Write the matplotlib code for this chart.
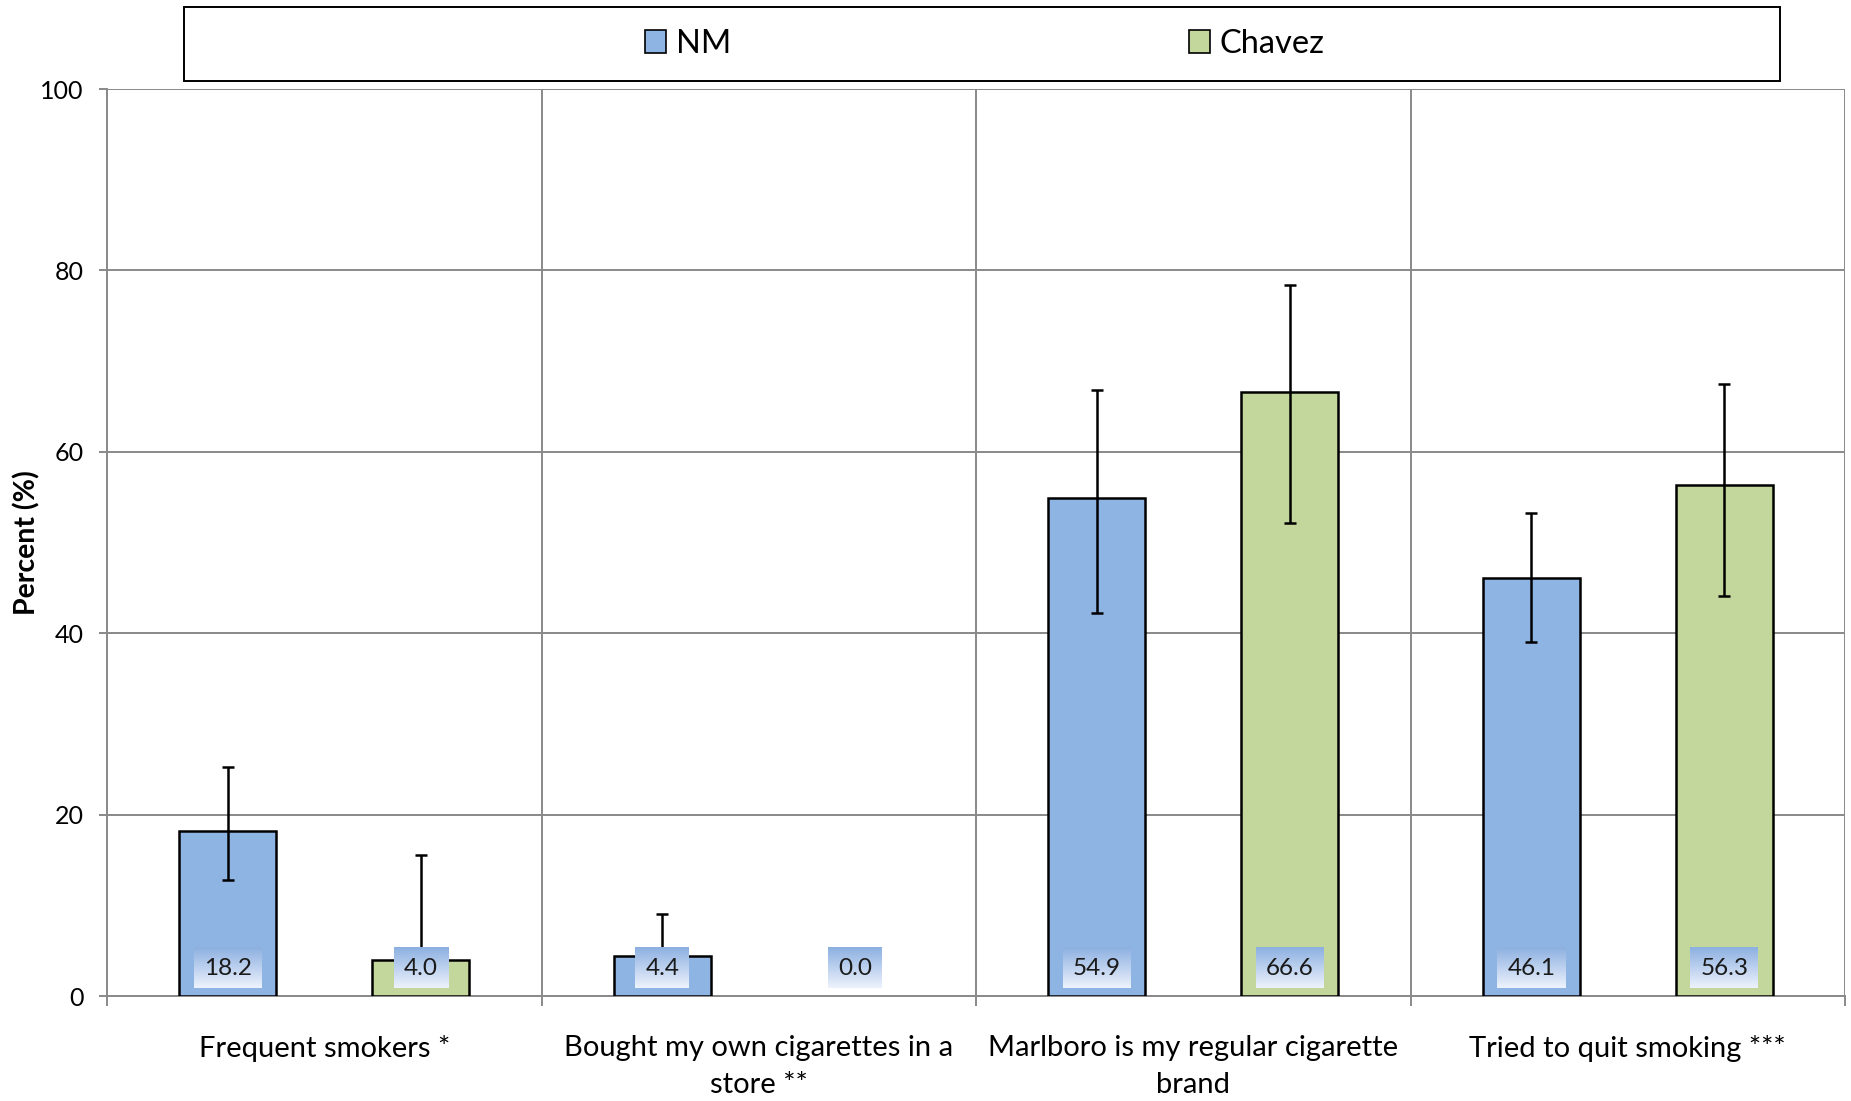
import numpy as np
import matplotlib
matplotlib.use("Agg")
import matplotlib.pyplot as plt
from matplotlib.patches import Rectangle

plt.rcParams['font.family'] = ['Lato', 'DejaVu Sans']

categories = ["Frequent smokers *", "Bought my own cigarettes in a\nstore **",
              "Marlboro is my regular cigarette\nbrand", "Tried to quit smoking ***"]
series_names = ["NM", "Chavez"]
nm_values = [18.2, 4.4, 54.9, 46.1]
nm_lower = [12.8, 1.5, 42.2, 39.0]
nm_upper = [25.2, 9.0, 66.8, 53.2]
chavez_values = [4.0, 0.0, 66.6, 56.3]
chavez_lower = [1.5, 0.0, 52.1, 44.1]
chavez_upper = [15.5, 0.0, 78.4, 67.5]
yticks = [0, 20, 40, 60, 80, 100]

colors = ["#8EB4E3", "#C3D69B"]
grid_c = "#898989"

W, H, DPI = 1851, 1101, 100
fig = plt.figure(figsize=(W / DPI, H / DPI), dpi=DPI)
ax = fig.add_axes([107 / W, 1 - 996 / H, (1845 - 107) / W, (996 - 89) / H])

n = len(categories)
centers = np.arange(n) + 0.5
offset = 0.222
bw = 0.223

series = [(nm_values, nm_lower, nm_upper), (chavez_values, chavez_lower, chavez_upper)]
label_texts = []
for k, (vals, lo, hi) in enumerate(series):
    vals = np.array(vals)
    xs = centers + (-offset if k == 0 else offset)
    bars = ax.bar(xs, vals, width=bw, color=colors[k], edgecolor="black", linewidth=1.8,
                  zorder=3, label=series_names[k])
    for b, v in zip(bars, vals):
        if v == 0:
            b.set_linewidth(0)
    err = np.array([vals - np.array(lo), np.array(hi) - vals])
    mask = (err.sum(axis=0) > 0)
    ax.errorbar(xs[mask], vals[mask], yerr=err[:, mask], fmt="none", ecolor="black",
                elinewidth=1.8, capsize=4.5, capthick=1.8, zorder=4)
    for x, v in zip(xs, vals):
        t = ax.text(x, 3.0, f"{v:.1f}", ha="center", va="center", fontsize=17.5,
                    color="#1a1a1a", zorder=6)
        label_texts.append(t)

ax.set_xlim(0, n)
ax.set_ylim(0, 100)
ax.set_autoscale_on(False)

ax.set_yticks(yticks)
ax.set_yticklabels([str(v) for v in yticks])
ax.set_xticks(centers)
ax.set_xticklabels(categories, fontsize=21, linespacing=1.55)
ax.set_xticks(np.arange(n + 1), minor=True)
ax.tick_params(axis="x", which="major", length=0, pad=28)
ax.tick_params(axis="x", which="minor", length=7, width=1.4, color=grid_c)
ax.tick_params(axis="y", length=6, width=1.4, color=grid_c, labelsize=18, pad=11)

ax.grid(True, axis="y", which="major", color=grid_c, linewidth=1.4, zorder=0)
ax.grid(True, axis="x", which="minor", color=grid_c, linewidth=1.4, zorder=0)
ax.set_axisbelow(True)
for s in ["top", "right"]:
    ax.spines[s].set_visible(False)
for s in ["left", "bottom"]:
    ax.spines[s].set_color(grid_c)
    ax.spines[s].set_linewidth(1.4)
    ax.spines[s].set_zorder(2.5)

ax.set_ylabel("Percent (%)", fontsize=20.5, fontweight="bold")
ax.yaxis.set_label_coords((40 - 107) / (1845 - 107), 0.5)

# legend
fs_leg = 23.5
fs_px = fs_leg * DPI / 72
leg = fig.legend(loc="center", bbox_to_anchor=(985 / W, 1 - 44 / H), ncol=2,
                 frameon=False, fontsize=fs_leg, handlelength=21 / fs_px,
                 handleheight=22 / fs_px, handletextpad=0.3,
                 columnspacing=458 / fs_px)
for h in leg.legend_handles:
    h.set_edgecolor("black")
    h.set_linewidth(1.2)
fig.patches.append(Rectangle((184 / W, 1 - 81 / H), (1780 - 184) / W, 74 / H,
                             transform=fig.transFigure, fill=False,
                             edgecolor="black", linewidth=1.4))

# gradient boxes behind value labels
fig.canvas.draw()
renderer = fig.canvas.get_renderer()
inv = ax.transData.inverted()
grad = np.linspace(0, 1, 64)[:, None]
top = np.array([0.55, 0.69, 0.88])
bot = np.array([0.93, 0.95, 0.99])
img = (top[None, None, :] * (1 - grad[..., None]) + bot[None, None, :] * grad[..., None])
for t in label_texts:
    bb = t.get_window_extent(renderer)
    x0, _ = inv.transform((bb.x0 - 10, 0))
    x1, _ = inv.transform((bb.x1 + 10, 0))
    ax.imshow(img, extent=(x0, x1, 0.88, 5.4), aspect="auto", zorder=5,
              interpolation="bilinear")
ax.set_xlim(0, n)
ax.set_ylim(0, 100)

fig.savefig("out.png", dpi=DPI)
